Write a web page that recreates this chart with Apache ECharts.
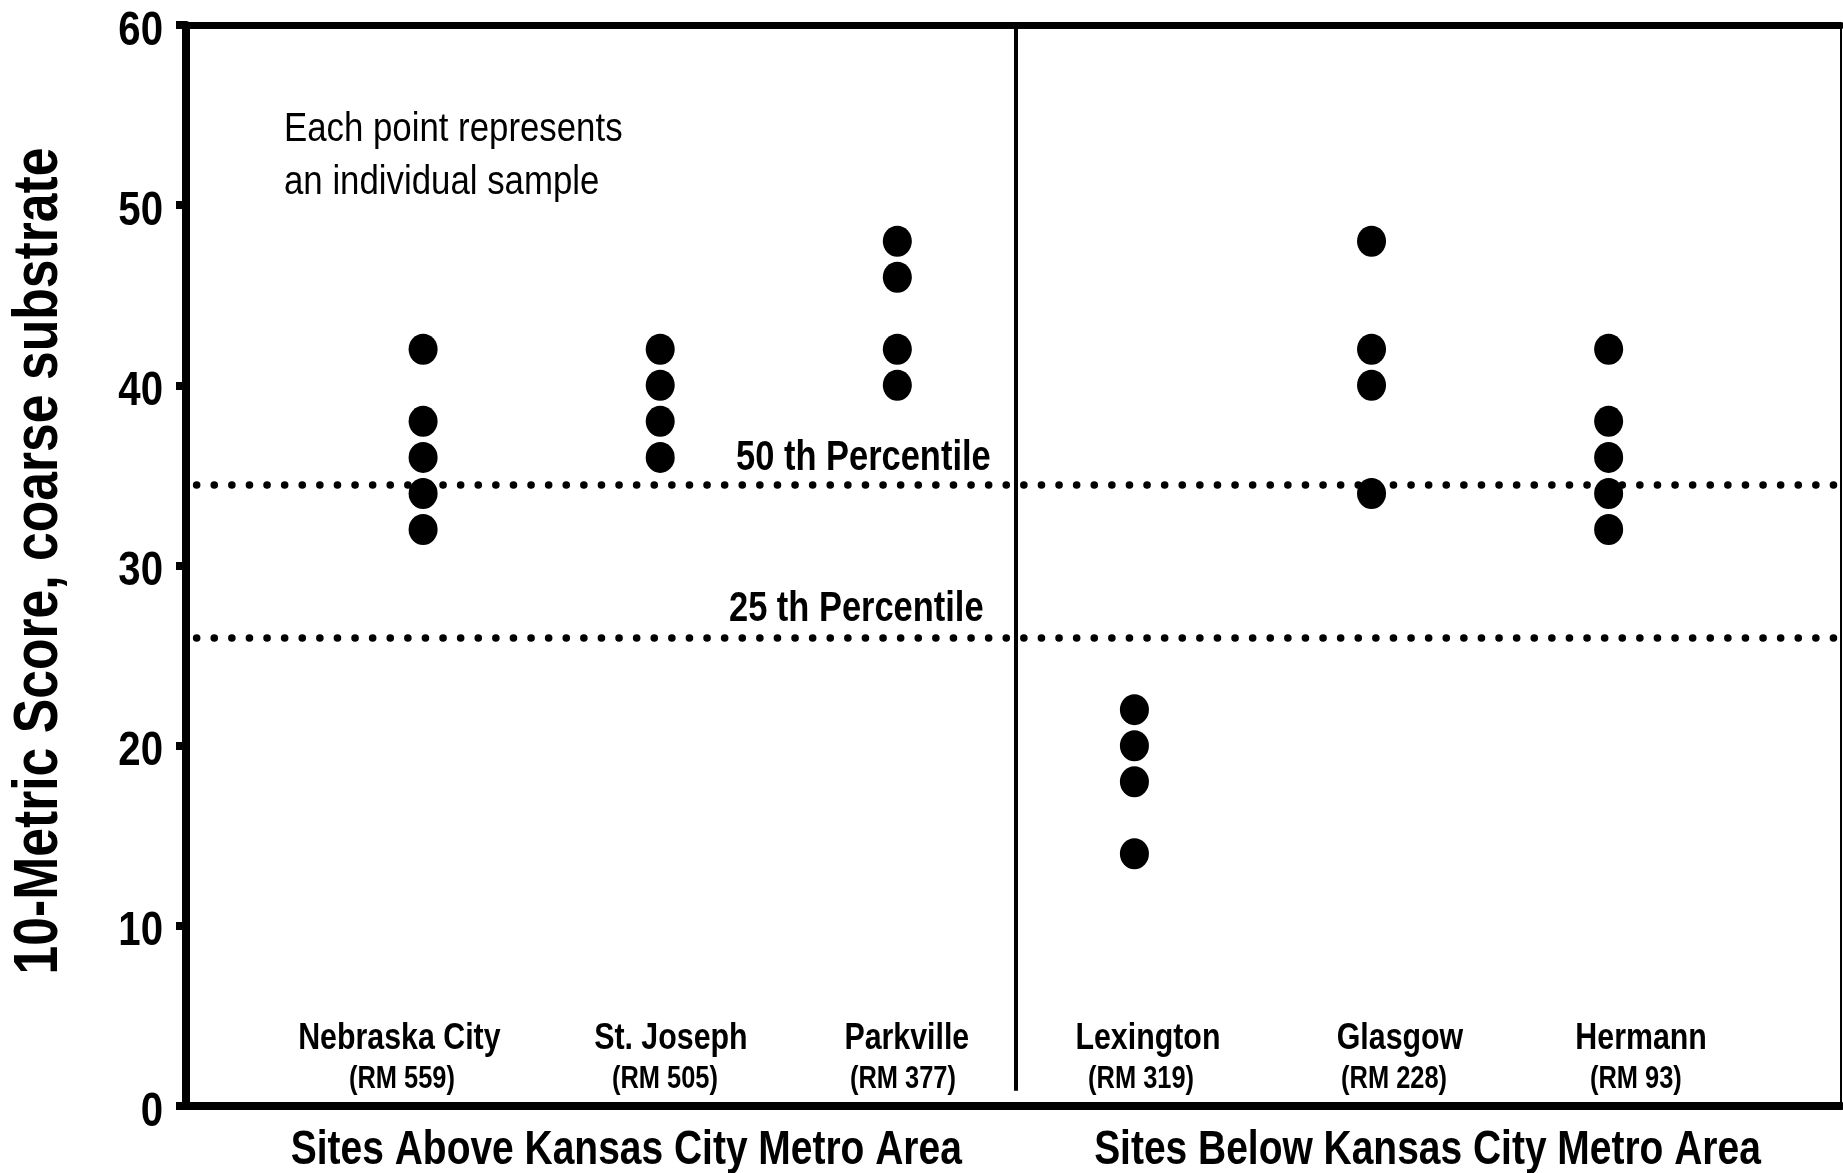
<!DOCTYPE html>
<html>
<head>
<meta charset="utf-8">
<script src="https://cdn.jsdelivr.net/npm/echarts@6/dist/echarts.min.js"></script>
<style>
  html, body { margin: 0; padding: 0; background: #ffffff; }
  #chart { width: 1843px; height: 1173px; }
</style>
</head>
<body>
<div id="chart"></div>
<script>
// Sampling sites along the river, upstream to downstream
const sites = ['Nebraska City', 'St. Joseph', 'Parkville', 'Lexington', 'Glasgow', 'Hermann'];
const riverMiles = ['(RM 559)', '(RM 505)', '(RM 377)', '(RM 319)', '(RM 228)', '(RM 93)'];

// 10-metric scores of the individual samples at each site
const nebraskaCity = [42, 38, 36, 34, 32];
const stJoseph = [42, 40, 38, 36];
const parkville = [48, 46, 42, 40];
const lexington = [22, 20, 18, 14];
const glasgow = [48, 42, 40, 34];
const hermann = [42, 38, 36, 34, 32];

// Reference percentiles of the score distribution
const percentile50 = 34.5;
const percentile25 = 26;

const yTicks = [0, 10, 20, 30, 40, 50, 60];
const groupTitles = ['Sites Above Kansas City Metro Area', 'Sites Below Kansas City Metro Area'];
const yTitle = '10-Metric Score, coarse substrate';
const noteLines = ['Each point represents', 'an individual sample'];

// ---- layout ----
// Condensed look: Arial-metric face squeezed horizontally
const FONT = "'Liberation Sans', Arial, sans-serif";
const SQUEEZE = 0.82;
const siteNameX = [0.90, 2.045, 3.04, 4.057, 5.12, 6.137];   // axis units
const riverMileX = [0.911, 2.02, 3.024, 4.028, 5.095, 6.115];
const groupSplit = 3.5;

const scoresBySite = [nebraskaCity, stJoseph, parkville, lexington, glasgow, hermann];
const points = [];
scoresBySite.forEach((scores, i) => {
  scores.forEach(v => points.push([i + 1, v]));
});

const chart = echarts.init(document.getElementById('chart'), null, { renderer: 'canvas' });

const dotted = {
  color: '#000',
  width: 7.5,
  type: [0.1, 17.5],
  cap: 'round',
  dashOffset: 7
};

const xAxisBase = {
  type: 'value',
  min: 0,
  max: 6.98,
  axisTick: { show: false },
  axisLabel: { show: false },
  splitLine: { show: false }
};

chart.setOption({
  animation: false,
  backgroundColor: '#ffffff',
  grid: {
    left: 186, right: 2, top: 25, bottom: 67,
    show: true, borderColor: '#000', borderWidth: 2, backgroundColor: 'transparent'
  },
  xAxis: [
    Object.assign({}, xAxisBase, { position: 'bottom', axisLine: { show: true, lineStyle: { color: '#000', width: 8 } } }),
    Object.assign({}, xAxisBase, { position: 'top', axisLine: { show: true, lineStyle: { color: '#000', width: 7 } } })
  ],
  yAxis: {
    type: 'value',
    min: 0,
    max: 60,
    interval: 10,
    axisLine: { show: true, lineStyle: { color: '#000', width: 8 } },
    axisTick: { show: true, inside: false, length: 10, lineStyle: { color: '#000', width: 8 } },
    // tick numbers are drawn below as condensed text
    axisLabel: { show: false },
    splitLine: { show: false }
  },
  series: [
    {
      name: 'Samples',
      type: 'scatter',
      xAxisIndex: 0,
      data: points,
      symbol: 'circle',
      symbolSize: [29, 31],
      itemStyle: { color: '#000', opacity: 1 },
      z: 5,
      markLine: {
        silent: true,
        symbol: ['none', 'none'],
        label: { show: false },
        data: [
          { yAxis: percentile50, lineStyle: dotted },
          { yAxis: percentile25, lineStyle: dotted },
          [
            { coord: [groupSplit, 60], lineStyle: { color: '#000', width: 4, type: 'solid' } },
            { coord: [groupSplit, 0.85] }
          ]
        ]
      }
    }
  ]
});

// Annotation texts, anchored to the data coordinates
function px(x, y) {
  return chart.convertToPixel({ gridIndex: 0 }, [x, y]);
}
function txt(text, x, y, opts) {
  return {
    type: 'text',
    x: x, y: y,
    rotation: opts.rotation || 0,
    scaleX: opts.squeeze || SQUEEZE,
    silent: true,
    z: 10,
    style: {
      text: text,
      fill: '#000',
      fontFamily: FONT,
      fontSize: opts.size,
      fontWeight: opts.weight || 'bold',
      align: opts.align || 'center',
      verticalAlign: 'middle',
      textAlign: opts.align || 'center',
      textVerticalAlign: 'middle'
    }
  };
}

const graphics = [];
yTicks.forEach(v => {
  const p = px(0, v);
  graphics.push(txt(String(v), 163, p[1] + 6, { size: 49, align: 'right' }));
});
sites.forEach((name, i) => {
  graphics.push(txt(name, px(siteNameX[i], 0)[0], 1039, { size: 37 }));
  graphics.push(txt(riverMiles[i], px(riverMileX[i], 0)[0], 1079, { size: 31 }));
});
const p50 = px(2.32, percentile50);
const p25 = px(2.29, percentile25);
graphics.push(txt('50 th Percentile', p50[0], p50[1] - 26, { size: 42, align: 'left' }));
graphics.push(txt('25 th Percentile', p25[0], p25[1] - 28, { size: 42, align: 'left' }));
graphics.push(txt(noteLines[0], 284, 130, { size: 40, weight: 'normal', align: 'left', squeeze: 0.87 }));
graphics.push(txt(noteLines[1], 284, 183, { size: 40, weight: 'normal', align: 'left', squeeze: 0.87 }));
graphics.push(txt(groupTitles[0], px(1.857, 0)[0], 1151, { size: 47.5 }));
graphics.push(txt(groupTitles[1], px(5.236, 0)[0], 1151, { size: 47.5 }));
graphics.push(txt(yTitle, 40, 561, { size: 63, rotation: Math.PI / 2 }));

chart.setOption({ graphic: { elements: graphics } });
</script>
</body>
</html>
